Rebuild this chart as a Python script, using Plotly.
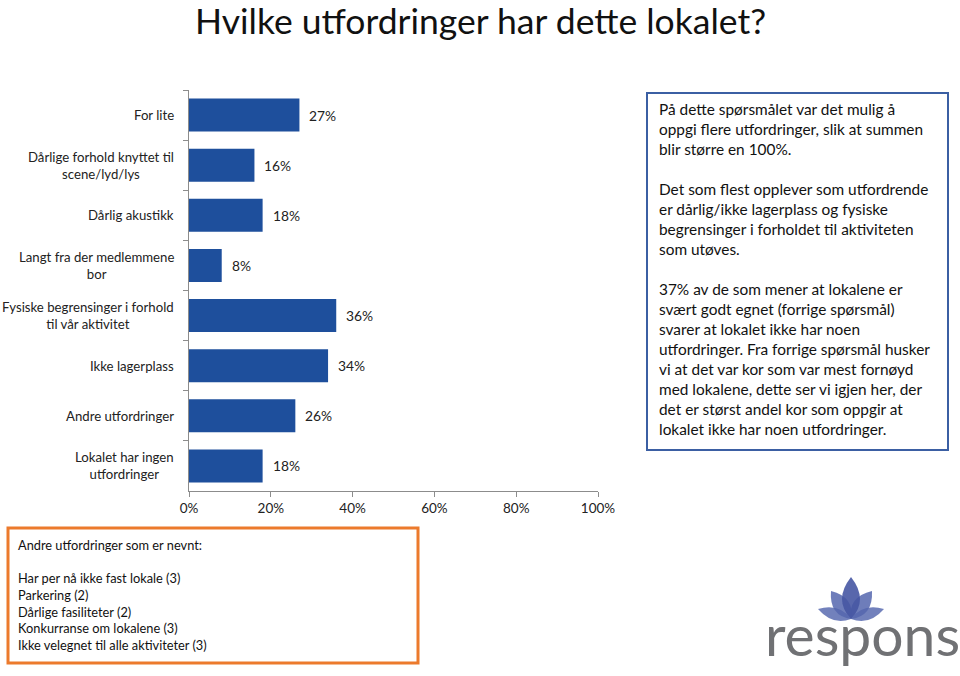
import plotly.graph_objects as go

# ---- data ----
categories = [
    "For lite",
    "Dårlige forhold knyttet til<br>scene/lyd/lys",
    "Dårlig akustikk",
    "Langt fra der medlemmene<br>bor",
    "Fysiske begrensinger i forhold<br>til vår aktivitet",
    "Ikke lagerplass",
    "Andre utfordringer",
    "Lokalet har ingen<br>utfordringer",
]
values = [27, 16, 18, 8, 36, 34, 26, 18]
x_ticks = [0, 20, 40, 60, 80, 100]
x_tick_labels = ["0%", "20%", "40%", "60%", "80%", "100%"]

title_text = "Hvilke utfordringer har dette lokalet?"
note_text = (
    "På dette spørsmålet var det mulig å<br>"
    "oppgi flere utfordringer, slik at summen<br>"
    "blir større en 100%.<br><br>"
    "Det som flest opplever som utfordrende<br>"
    "er dårlig/ikke lagerplass og fysiske<br>"
    "begrensinger i forholdet til aktiviteten<br>"
    "som utøves.<br><br>"
    "37% av de som mener at lokalene er<br>"
    "svært godt egnet (forrige spørsmål)<br>"
    "svarer at lokalet ikke har noen<br>"
    "utfordringer. Fra forrige spørsmål husker<br>"
    "vi at det var kor som var mest fornøyd<br>"
    "med lokalene, dette ser vi igjen her, der<br>"
    "det er størst andel kor som oppgir at<br>"
    "lokalet ikke har noen utfordringer."
)
other_text = (
    "Andre utfordringer som er nevnt:<br><br>"
    "Har per nå ikke fast lokale (3)<br>"
    "Parkering (2)<br>"
    "Dårlige fasiliteter (2)<br>"
    "Konkurranse om lokalene (3)<br>"
    "Ikke velegnet til alle aktiviteter (3)"
)

# ---- layout geometry ----
W, H = 960, 676
PL, PR, PT, PB = 189, 598, 90, 491
FONT = "Lato"
BAR = "#1E4F9C"
AX = "#8C8C8C"


def px(x):
    return (x - PL) / (PR - PL)


def py(y):
    return (PB - y) / (PB - PT)


fig = go.Figure(
    go.Bar(
        x=values,
        y=categories,
        orientation="h",
        marker=dict(color=BAR, line=dict(width=0)),
        width=0.66,
        hoverinfo="skip",
    )
)

ann = []
# data labels
for c, v in zip(categories, values):
    ann.append(dict(x=v, y=c, xref="x", yref="y", text=f"{v}%", showarrow=False,
                    xanchor="left", xshift=8, font=dict(size=13.8, color="#222", family=FONT)))
# category labels (centered multi-line)
for c in categories:
    ann.append(dict(x=px(176), y=c, xref="paper", yref="y", text=c, showarrow=False,
                    xanchor="right", align="center",
                    font=dict(size=13.2, color="#222", family=FONT)))
# title
ann.append(dict(x=px(480), y=py(20), xref="paper", yref="paper", text=title_text,
                showarrow=False, xanchor="center", yanchor="middle",
                font=dict(size=35.5, color="#111", family=FONT)))
# note box text
ann.append(dict(x=px(657), y=py(98), xref="paper", yref="paper", text=note_text,
                showarrow=False, xanchor="left", yanchor="top", align="left",
                font=dict(size=15.4, color="#111", family=FONT)))
# other box text
ann.append(dict(x=px(16), y=py(535), xref="paper", yref="paper", text=other_text,
                showarrow=False, xanchor="left", yanchor="top", align="left",
                font=dict(size=12.8, color="#111", family=FONT)))
# logo text
ann.append(dict(x=px(862), y=py(634), xref="paper", yref="paper", text="respons",
                showarrow=False, xanchor="center", yanchor="middle",
                font=dict(size=57, color="#707174", family=FONT, weight=400)))

shapes = [
    dict(type="rect", xref="paper", yref="paper", x0=px(647), x1=px(948), y0=py(93), y1=py(450),
         line=dict(color="#3B5FA3", width=2), fillcolor="rgba(0,0,0,0)"),
    dict(type="rect", xref="paper", yref="paper", x0=px(8), x1=px(418), y0=py(528), y1=py(663),
         line=dict(color="#EC7A2C", width=3), fillcolor="rgba(0,0,0,0)"),
]


def petal(bx, by, tx, ty, w, color, op):
    # pointed leaf from base (bx,by) to tip (tx,ty), half-width w (pixels)
    dx, dy = tx - bx, ty - by
    L = (dx * dx + dy * dy) ** 0.5
    nx, ny = -dy / L, dx / L
    mx, my = bx + dx * 0.45, by + dy * 0.45
    c1 = (mx + nx * w * 2, my + ny * w * 2)
    c2 = (mx - nx * w * 2, my - ny * w * 2)
    path = (f"M {px(bx)},{py(by)} Q {px(c1[0])},{py(c1[1])} {px(tx)},{py(ty)} "
            f"Q {px(c2[0])},{py(c2[1])} {px(bx)},{py(by)} Z")
    return dict(type="path", xref="paper", yref="paper", path=path,
                fillcolor=color, opacity=op, line=dict(width=0))


base = (851, 619)
shapes += [
    petal(base[0], base[1], 818, 609, 6, "#6373B5", 0.9),
    petal(base[0], base[1], 884, 609, 6, "#6373B5", 0.9),
    petal(base[0], base[1], 831, 591, 8, "#5566AE", 0.85),
    petal(base[0], base[1], 872, 591, 8, "#5566AE", 0.85),
    petal(base[0], base[1], 851, 577, 9, "#4657A3", 0.9),
]

fig.update_layout(
    width=W, height=H,
    margin=dict(l=PL, r=W - PR, t=PT, b=H - PB, pad=0),
    paper_bgcolor="white", plot_bgcolor="white",
    showlegend=False,
    bargap=0.34,
    annotations=ann,
    shapes=shapes,
    font=dict(family=FONT, size=13.5, color="#222"),
    xaxis=dict(range=[0, 100], tickvals=x_ticks, ticktext=x_tick_labels, showgrid=False,
               zeroline=False, showline=True, linecolor=AX, linewidth=1,
               ticks="outside", ticklen=5, tickcolor=AX,
               tickfont=dict(size=13.5, color="#222", family=FONT), fixedrange=True),
    yaxis=dict(autorange="reversed", showticklabels=False, showgrid=False, zeroline=False,
               showline=True, linecolor=AX, linewidth=1, ticks="outside", ticklen=5,
               tickcolor=AX, tickson="boundaries", fixedrange=True),
)

fig.write_html("out.html", config={"displayModeBar": False},
               post_script="document.body.style.margin='0';document.body.style.overflow='hidden';")
